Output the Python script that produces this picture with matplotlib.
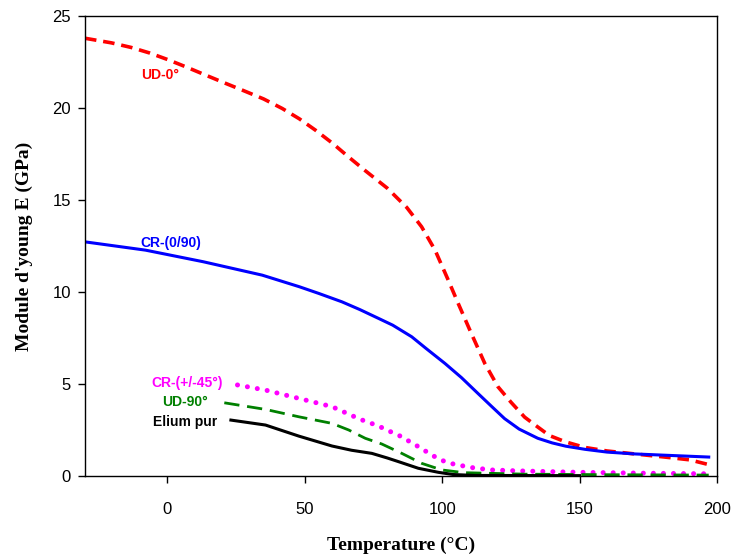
import matplotlib
matplotlib.use("Agg")
import matplotlib.pyplot as plt

# UD-0° (red dashed)
ud0_x = [-30, -20.4, -13.2, -6.5, 0.1, 6.8, 14, 21.3, 27.9, 35, 41.8, 48, 53.9, 60, 65.9, 72, 80, 87.1, 92.5, 97.4,
         102.2, 105.8, 110.6, 115.5, 120.3, 125.1, 130, 134, 139, 145, 152, 160, 170, 181, 190, 197]
ud0_y = [23.8, 23.55, 23.3, 23.0, 22.64, 22.24, 21.79, 21.34, 20.94, 20.5, 19.98, 19.42, 18.8, 18.1, 17.35, 16.6, 15.65, 14.6, 13.55, 12.28,
         10.65, 9.39, 7.75, 6.12, 4.85, 4.0, 3.2, 2.75, 2.2, 1.85, 1.55, 1.36, 1.2, 1.03, 0.88, 0.62]

# CR-(0/90) (blue solid)
cr090_x = [-30, -8, 13, 34.5, 48, 55, 63.5, 70, 76.8, 82, 88.9, 94, 101, 107, 113, 118, 122.7, 128, 134.8, 140, 145, 152, 160, 170, 181, 197]
cr090_y = [12.73, 12.28, 11.65, 10.92, 10.29, 9.93, 9.47, 9.05, 8.57, 8.2, 7.57, 6.95, 6.12, 5.35, 4.49, 3.78, 3.12, 2.55, 2.05, 1.8, 1.62, 1.45, 1.3, 1.2, 1.13, 1.03]

# CR-(+/-45°) (magenta dotted)
cr45_x = [25.5, 35.7, 47.8, 59.9, 70.2, 76.8, 80.4, 84, 90.7, 94.3, 97.3, 101, 104.6, 111.2, 117.9, 127.5, 150, 175, 197]
cr45_y = [4.95, 4.67, 4.22, 3.77, 3.08, 2.72, 2.46, 2.23, 1.65, 1.32, 1.05, 0.78, 0.63, 0.45, 0.33, 0.28, 0.2, 0.15, 0.12]

# UD-90° (green dashed)
ud90_x = [20.7, 35.7, 47.8, 59.9, 66, 72, 78, 85.3, 92.5, 99.8, 108, 130, 160, 197]
ud90_y = [3.98, 3.62, 3.22, 2.86, 2.5, 2.05, 1.74, 1.23, 0.69, 0.33, 0.18, 0.1, 0.07, 0.05]

# Elium pur (black solid)
elium_x = [23.1, 35.7, 47.8, 59.9, 67, 74.4, 80, 84.1, 91.3, 98.6, 104, 112, 150]
elium_y = [3.04, 2.77, 2.17, 1.63, 1.4, 1.23, 0.98, 0.78, 0.42, 0.2, 0.08, 0.03, 0.02]

x_ticks = [0, 50, 100, 150, 200]
y_ticks = [0, 5, 10, 15, 20, 25]

fig = plt.figure(figsize=(7.34, 5.54), dpi=100)
ax = fig.add_axes([0.1158, 0.1408, 0.861, 0.830])

ax.plot(ud0_x, ud0_y, color='#ff0000', lw=2.6, linestyle=(0, (3.2, 1.9)))
ax.plot(cr090_x, cr090_y, color='#0000ff', lw=2.2)
ax.plot(cr45_x, cr45_y, color='#ff00ff', lw=3.6, linestyle=(0, (0.01, 2.0)), dash_capstyle='round')
ax.plot(ud90_x, ud90_y, color='#008000', lw=2.0, linestyle=(0, (5.5, 2.8)))
ax.plot(elium_x, elium_y, color='black', lw=2.2)

lab = dict(family='Liberation Sans', fontweight='bold', fontsize=10, ha='center', va='center')
ax.text(-2.5, 21.8, 'UD-0°', color='#ff0000', **lab)
ax.text(1.4, 12.66, 'CR-(0/90)', color='#0000ff', **lab)
ax.text(7.0, 5.04, 'CR-(+/-45°)', color='#ff00ff', **lab)
ax.text(6.4, 4.0, 'UD-90°', color='#008000', **lab)
ax.text(6.4, 2.93, 'Elium pur', color='black', **lab)

ax.set_xlim(-30, 200)
ax.set_ylim(0, 25)
ax.set_xticks(x_ticks)
ax.set_yticks(y_ticks)
ax.tick_params(direction='out', length=5, width=1, labelsize=12)
ax.tick_params(axis='x', pad=14)
ax.tick_params(axis='y', pad=5)
for t in ax.get_xticklabels() + ax.get_yticklabels():
    t.set_family('Liberation Sans')
for s in ax.spines.values():
    s.set_linewidth(1)

ax.set_xlabel('Temperature (°C)', family='Liberation Serif', fontweight='bold', fontsize=14, labelpad=14)
ax.set_ylabel("Module d'young E (GPa)", family='Liberation Serif', fontweight='bold', fontsize=14, labelpad=14)

fig.savefig('out.png', dpi=100)
